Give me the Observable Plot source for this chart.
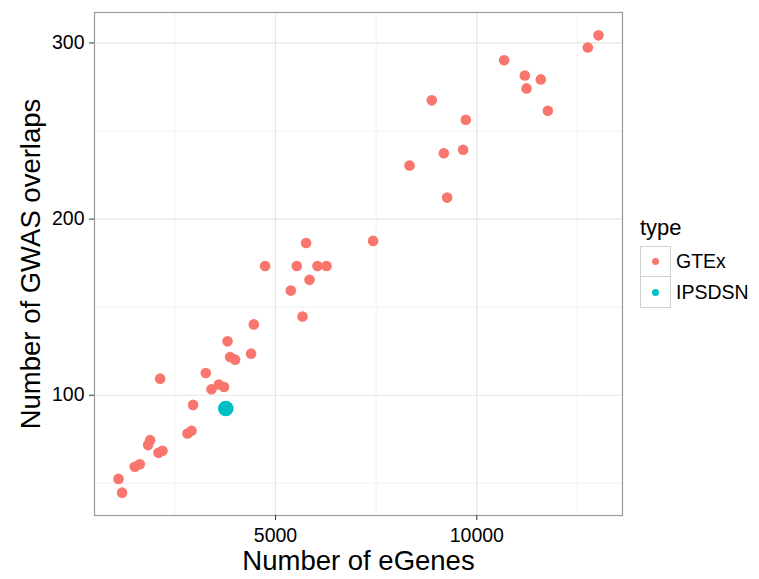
<!DOCTYPE html>
<html>
<head>
<meta charset="utf-8">
<script src="https://cdn.jsdelivr.net/npm/d3@7"></script>
<script src="https://cdn.jsdelivr.net/npm/@observablehq/plot@0.6"></script>
<style>
  html, body { margin: 0; padding: 0; background: #fff; }
  #wrap { position: relative; width: 759px; height: 579px; font-family: "Liberation Sans", Arial, Helvetica, sans-serif; }
  #legend { position: absolute; left: 640px; top: 215px; color: #000; }
  #legend .title { font-size: 22px; line-height: 26px; margin-bottom: 5px; }
  #legend .row { display: flex; align-items: center; height: 31px; }
  #legend .key { width: 31px; height: 31px; border: 1px solid #d0d0d0; box-sizing: border-box; display: flex; align-items: center; justify-content: center; background: #fff; }
  #legend .row + .row .key { border-top: none; }
  #legend .dot { width: 7px; height: 7px; border-radius: 50%; }
  #legend .lab { font-size: 19.5px; margin-left: 5px; }
</style>
</head>
<body>
<div id="wrap"></div>
<script>
// ---- data ----
const types = ["GTEx", "IPSDSN"];
const typeColors = ["#F8766D", "#00BFC4"];

const gtexEGenes = [1100,1190,1505,1629,1835,1885,2094,2193,2134,2814,2913,2953,3269,3410,3592,3723,3808,3872,3996,4394,4461,5671,4742,5380,5529,5845,5760,6043,6267,7424,8329,9263,8882,9727,9181,9660,10678,11193,11590,11235,11764,12758,13023];
const gtexOverlaps = [52.5,44.7,59.4,60.8,71.7,74.5,67.3,68.5,109.4,78.3,79.8,94.5,112.6,103.4,106.1,104.7,130.6,121.7,120.2,123.6,140.2,144.7,173.4,159.4,173.4,165.5,186.4,173.4,173.4,187.6,230.4,212.2,267.4,256.4,237.4,239.4,290.2,281.5,279.3,274.2,261.5,297.4,304.3];
const ipsEGenes = [3765];
const ipsOverlaps = [92.5];

const xTicks = [5000, 10000];
const xMinor = [2500, 7500, 12500];
const yTicks = [100, 200, 300];
const yMinor = [50, 150, 250];

const xTitle = "Number of eGenes";
const yTitle = "Number of GWAS overlaps";
const legendTitle = "type";

// ---- table ----
const rows = [
  ...gtexEGenes.map((x, i) => ({x, y: gtexOverlaps[i], type: types[0]})),
  ...ipsEGenes.map((x, i) => ({x, y: ipsOverlaps[i], type: types[1]}))
];
function expand(ext) { const d = (ext[1] - ext[0]) * 0.05; return [ext[0] - d, ext[1] + d]; }
const xDomain = expand(d3.extent(rows, d => d.x));
const yDomain = expand(d3.extent(rows, d => d.y));

const chart = Plot.plot({
  width: 640,
  height: 579,
  marginLeft: 94,
  marginRight: 18,
  marginTop: 12,
  marginBottom: 64,
  style: {fontFamily: "'Liberation Sans', Arial, Helvetica, sans-serif", background: "#fff", color: "#000"},
  x: {domain: xDomain, label: null},
  y: {domain: yDomain, label: null},
  color: {domain: types, range: typeColors},
  marks: [
    Plot.ruleX(xMinor, {stroke: "#f4f4f4", strokeWidth: 1.2}),
    Plot.ruleY(yMinor, {stroke: "#f4f4f4", strokeWidth: 1.2}),
    Plot.ruleX(xTicks, {stroke: "#e6e6e6", strokeWidth: 1.2}),
    Plot.ruleY(yTicks, {stroke: "#e6e6e6", strokeWidth: 1.2}),
    Plot.frame({stroke: "#9a9a9a", strokeWidth: 1.2}),
    Plot.dot(rows.filter(d => d.type === types[0]), {x: "x", y: "y", fill: "type", r: 5.3}),
    Plot.dot(rows.filter(d => d.type === types[1]), {x: "x", y: "y", fill: "type", r: 7.8}),
    Plot.axisX(xTicks, {tickSize: 5, tickPadding: 8, fontSize: 19.5, label: null, stroke: "#333", tickFormat: d3.format("d")}),
    Plot.axisY(yTicks, {tickSize: 5, tickPadding: 5, fontSize: 19.5, label: null, stroke: "#333", tickFormat: d3.format("d")}),
    Plot.text([xTitle], {frameAnchor: "bottom", dy: 54, fontSize: 27.5, textAnchor: "middle"}),
    Plot.text([yTitle], {frameAnchor: "left", dx: -63, rotate: -90, fontSize: 27.5, textAnchor: "middle"})
  ]
});

const wrap = document.getElementById("wrap");
wrap.appendChild(chart);

// legend
const legend = document.createElement("div");
legend.id = "legend";
const t = document.createElement("div");
t.className = "title";
t.textContent = legendTitle;
legend.appendChild(t);
types.forEach((name, i) => {
  const row = document.createElement("div");
  row.className = "row";
  const key = document.createElement("div");
  key.className = "key";
  const dot = document.createElement("div");
  dot.className = "dot";
  dot.style.background = typeColors[i];
  key.appendChild(dot);
  const lab = document.createElement("div");
  lab.className = "lab";
  lab.textContent = name;
  row.appendChild(key);
  row.appendChild(lab);
  legend.appendChild(row);
});
wrap.appendChild(legend);
</script>
</body>
</html>
